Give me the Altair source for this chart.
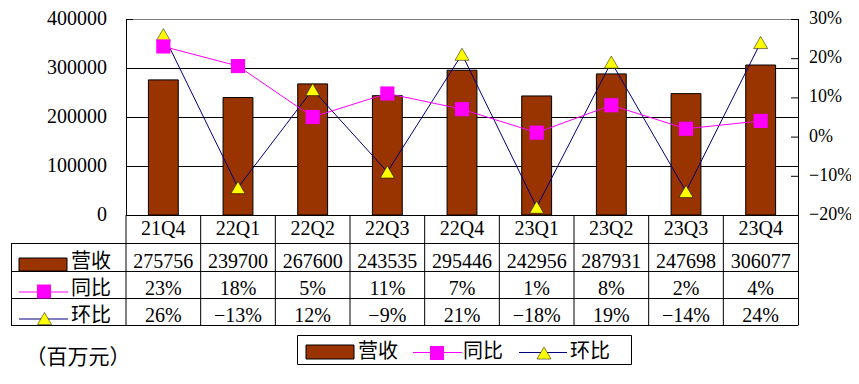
import altair as alt
import pandas as pd

# ---- data ----
quarters = ["21Q4", "22Q1", "22Q2", "22Q3", "22Q4", "23Q1", "23Q2", "23Q3", "23Q4"]
revenue = [275756, 239700, 267600, 243535, 295446, 242956, 287931, 247698, 306077]
yoy = [23, 18, 5, 11, 7, 1, 8, 2, 4]          # 同比, %
qoq = [26, -13, 12, -9, 21, -18, 19, -14, 24]  # 环比, %
series = ["营收", "同比", "环比"]
left_ticks = [0, 100000, 200000, 300000, 400000]
right_ticks = [-20, -10, 0, 10, 20, 30]
unit_label = "（百万元）"

# ---- styles / layout ----
BROWN = "#993300"
PINK = "#FF00FF"
NAVY = "#000080"
YELLOW = "#FFFF00"
NUM_FONT = "Liberation Serif"
CJK_FONT = "Noto Sans CJK SC"
FS = 20
PAD_TOP, PAD_LEFT = 11, 118
W, H = 672, 196
TOP = 8 + PAD_TOP      # page y of the plot top
LEFT = 8 + PAD_LEFT    # page x of the plot left


def A(y):   # page y -> plot y
    return y - TOP


def B(x):   # page x -> plot x
    return x - LEFT


df = pd.DataFrame({"q": quarters, "rev": revenue, "yoy": yoy, "qoq": qoq})
base = alt.Chart(df)
one = alt.Data(values=[{}])

xscale = alt.Scale(paddingInner=0, paddingOuter=0)
X = alt.X("q:N", sort=quarters, scale=xscale, axis=None)
lscale = alt.Scale(domain=[left_ticks[0], left_ticks[-1]], nice=False)
rscale = alt.Scale(domain=[right_ticks[0], right_ticks[-1]], nice=False)
ldf = pd.DataFrame({"v": left_ticks})
rdf = pd.DataFrame({"v": right_ticks})
num_text = dict(font=NUM_FONT, color="black", baseline="middle")


def hrule(y, x1=B(11), x2=W, color="black"):
    return alt.Chart(one).mark_rule(color=color, strokeWidth=1).encode(
        x=alt.value(x1), x2=alt.value(x2), y=alt.value(y))


def vrule(x, y1, y2):
    return alt.Chart(one).mark_rule(color="black", strokeWidth=1).encode(
        x=alt.value(x), y=alt.value(y1), y2=alt.value(y2))


# ---- left (bars + left value scale) ----
lgrid = alt.Chart(ldf).mark_rule(strokeWidth=1, yOffset=0.5).encode(
    x=alt.value(0), x2=alt.value(W),
    y=alt.Y("v:Q", scale=lscale, axis=None),
    color=alt.condition(f"datum.v >= {left_ticks[-1]}", alt.value("#808080"), alt.value("black")),
)
bars = base.mark_bar(color=BROWN, stroke="black", strokeWidth=1,
                     width=alt.RelativeBandSize(0.4)).encode(
    x=X, y=alt.Y("rev:Q", scale=lscale, axis=None))
lticks = alt.Chart(ldf).mark_rule(color="black", yOffset=0.5).encode(
    x=alt.value(0), x2=alt.value(7), y=alt.Y("v:Q", scale=lscale, axis=None))
llabels = alt.Chart(ldf).mark_text(align="right", fontSize=FS, **num_text).encode(
    x=alt.value(-19), y=alt.Y("v:Q", scale=lscale, axis=None),
    text=alt.Text("v:Q", format="d"))
left = alt.layer(lgrid, bars, lticks, llabels)

# ---- right (lines + right percentage scale) ----
qoq_line = base.mark_line(color=NAVY, strokeWidth=1).encode(
    x=X, y=alt.Y("qoq:Q", scale=rscale, axis=None))
qoq_pts = base.mark_point(shape="triangle-up", fill=YELLOW, fillOpacity=1, opacity=1,
                          stroke="black", strokeWidth=0.5, size=196).encode(
    x=X, y=alt.Y("qoq:Q", scale=rscale, axis=None))
yoy_line = base.mark_line(color=PINK, strokeWidth=1).encode(
    x=X, y=alt.Y("yoy:Q", scale=rscale, axis=None))
yoy_pts = base.mark_square(color=PINK, opacity=1, size=200).encode(
    x=X, y=alt.Y("yoy:Q", scale=rscale, axis=None))
rticks = alt.Chart(rdf).mark_rule(color="black", yOffset=0.5).encode(
    x=alt.value(W - 7), x2=alt.value(W), y=alt.Y("v:Q", scale=rscale, axis=None))
rlabels = alt.Chart(rdf).transform_calculate(
    t="format(datum.v, 'd') + '%'").mark_text(align="left", fontSize=18, **num_text).encode(
    x=alt.value(W + 11), y=alt.Y("v:Q", scale=rscale, axis=None), text="t:N")
right = alt.layer(qoq_line, qoq_pts, yoy_line, yoy_pts, rticks, rlabels)

# ---- frame + data table below (page positions from the reference) ----
row_lines = [A(243.5), A(271.5), A(298.5), A(325.5)]
table_lines = [hrule(y) for y in row_lines] + [
    vrule(0.5, 0, H), vrule(W + 0.5, 0, row_lines[-1]),
    vrule(B(11.5), row_lines[0], row_lines[-1])]
vlines = base.mark_rule(color="black", strokeWidth=1).encode(
    x=alt.X("q:N", sort=quarters, scale=xscale, axis=None, bandPosition=0),
    y=alt.value(H), y2=alt.value(row_lines[-1]))

cat_text = base.mark_text(align="center", fontSize=FS, **num_text).encode(
    x=X, y=alt.value(A(229)), text="q:N")
rev_text = base.mark_text(align="center", fontSize=FS, **num_text).encode(
    x=X, y=alt.value(A(262)), text=alt.Text("rev:Q", format="d"))
yoy_text = base.transform_calculate(t="format(datum.yoy, 'd') + '%'").mark_text(
    align="center", fontSize=FS, **num_text).encode(x=X, y=alt.value(A(289)), text="t:N")
qoq_text = base.transform_calculate(t="format(datum.qoq, 'd') + '%'").mark_text(
    align="center", fontSize=FS, **num_text).encode(x=X, y=alt.value(A(316)), text="t:N")

cjk = dict(font=CJK_FONT, color="black", baseline="middle", align="center")


def label(txt, x, y, size=FS):
    return alt.Chart(one).mark_text(fontSize=size, **cjk).encode(
        x=alt.value(B(x)), y=alt.value(A(y)), text=alt.value(txt))


def swatch_rect(x1, x2, y1, y2):
    return alt.Chart(one).mark_rect(color=BROWN, stroke="black", strokeWidth=1).encode(
        x=alt.value(B(x1)), x2=alt.value(B(x2)), y=alt.value(A(y1)), y2=alt.value(A(y2)))


def line_key(x1, x2, y, color):
    return hrule(A(y), B(x1), B(x2), color)


def sym(shape, x, y, fill, stroke=None, size=196):
    kw = dict(shape=shape, fill=fill, fillOpacity=1, opacity=1, size=size)
    if stroke:
        kw.update(stroke=stroke, strokeWidth=0.5)
    else:
        kw.update(strokeWidth=0)
    return alt.Chart(one).mark_point(**kw).encode(x=alt.value(B(x)), y=alt.value(A(y)))


# header cells
headers = [
    swatch_rect(19, 67, 258, 271), label(series[0], 91, 262),
    line_key(19, 68, 292, PINK), sym("square", 44, 291.5, PINK), label(series[1], 91, 289),
    line_key(19, 68, 319, NAVY), sym("triangle-up", 44.5, 318.5, YELLOW, "black"), label(series[2], 91, 316),
]

# legend box
legend_box = alt.Chart(one).mark_rect(fill="white", stroke="black", strokeWidth=1).encode(
    x=alt.value(B(297.5)), x2=alt.value(B(631.5)), y=alt.value(A(335.5)), y2=alt.value(A(364.5)))
legend = [
    legend_box,
    swatch_rect(306, 354, 345, 359), label(series[0], 378, 352),
    line_key(413, 462, 352.5, PINK), sym("square", 437, 353, PINK), label(series[1], 483, 352),
    line_key(519, 567, 352.5, NAVY), sym("triangle-up", 544, 353, YELLOW, "black"), label(series[2], 590, 352),
]

unit = label(unit_label, 78, 358, 21)

table = alt.layer(*table_lines, vlines, cat_text, rev_text, yoy_text, qoq_text,
                  *headers, *legend, unit)

chart = alt.layer(left, right, table).resolve_scale(y="independent").properties(
    width=W, height=H,
    autosize=alt.AutoSizeParams(type="none"),
    padding={"left": PAD_LEFT, "top": PAD_TOP, "right": 53, "bottom": 161},
).configure_view(stroke=None).configure(background="white")

chart.save("out.html", embed_options={"renderer": "svg", "actions": False})
